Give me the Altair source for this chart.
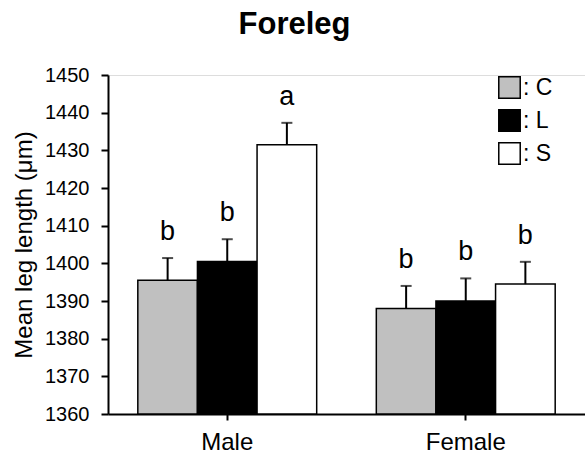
import altair as alt
import pandas as pd

sexes = ["Male", "Male", "Male", "Female", "Female", "Female"]
treatments = ["C", "L", "S", "C", "L", "S"]
means = [1395.5, 1400.5, 1431.5, 1388.0, 1390.0, 1394.5]
errors = [5.9, 5.9, 5.8, 6.0, 6.0, 5.9]
letters = ["b", "b", "a", "b", "b", "b"]
y_ticks = [1360, 1370, 1380, 1390, 1400, 1410, 1420, 1430, 1440, 1450]
treat_order = ["C", "L", "S"]
treat_colors = ["#c0c0c0", "#000000", "#ffffff"]
sex_order = ["Male", "Female"]

df = pd.DataFrame({
    "sex": sexes,
    "treat": treatments,
    "mean": means,
    "err": errors,
    "letter": letters,
})
df["upper"] = df["mean"] + df["err"]
df["base"] = y_ticks[0]

FONT = "Liberation Sans"

X_AXIS = alt.Axis(title=None, labelAngle=0, labelFontSize=24,
                  labelPadding=10, tickSize=6, tickWidth=2,
                  tickColor="black", labelColor="black",
                  domainColor="black", domainWidth=2)
Y_AXIS = alt.Axis(title="Mean leg length (μm)", values=y_ticks, format="d",
                  labelOverlap=False,
                  titleFontSize=24, titleFontWeight="normal",
                  titleColor="black", titlePadding=8,
                  labelFontSize=20, labelColor="black", labelPadding=12,
                  tickSize=7, tickWidth=2, tickColor="black",
                  domainColor="black", domainWidth=2, grid=False)
x_scale = alt.Scale(paddingInner=0.25, paddingOuter=0.125)
y_scale = alt.Scale(domain=[1360, 1450], zero=False, nice=False)


def xe():
    return alt.X("sex:N", sort=sex_order, scale=x_scale, axis=X_AXIS)


def xoe():
    return alt.XOffset("treat:N", sort=treat_order, scale=alt.Scale(paddingInner=0, paddingOuter=0))


def ye(field):
    return alt.Y(field, scale=y_scale, axis=Y_AXIS)


bars = alt.Chart(df).mark_bar(stroke="black", strokeWidth=1.5).encode(
    x=xe(),
    xOffset=xoe(),
    y=ye("mean:Q"),
    y2="base:Q",
    fill=alt.Fill("treat:N", sort=treat_order,
                  scale=alt.Scale(domain=treat_order, range=treat_colors),
                  legend=alt.Legend(title=None, orient="none", legendX=390, legendY=1,
                                    symbolType="square", symbolSize=460,
                                    symbolStrokeColor="black", symbolStrokeWidth=1.5,
                                    symbolOpacity=1,
                                    labelFontSize=23, labelColor="black",
                                    labelExpr="': ' + datum.label",
                                    labelOffset=2, rowPadding=4, padding=0)),
)

rules = alt.Chart(df).mark_rule(color="black", strokeWidth=2).encode(
    x=xe(),
    xOffset=xoe(),
    y=ye("mean:Q"),
    y2="upper:Q",
)

caps = alt.Chart(df).mark_tick(color="black", thickness=2, size=11, orient="horizontal").encode(
    x=xe(),
    xOffset=xoe(),
    y=ye("upper:Q"),
)

texts = alt.Chart(df).mark_text(fontSize=27, baseline="bottom", dy=-12, color="black", font=FONT).encode(
    x=xe(),
    xOffset=xoe(),
    y=ye("upper:Q"),
    text="letter:N",
)

chart = alt.layer(bars, rules, caps, texts).properties(
    width=477, height=339,
    title=alt.TitleParams("Foreleg", fontSize=31, fontWeight="bold", color="black",
                          anchor="middle", dx=-52, offset=24, font=FONT),
    autosize=alt.AutoSizeParams(type="none"),
    padding={"left": 108, "top": 75, "right": 0, "bottom": 51},
).configure_view(stroke=None).configure(font=FONT)

chart.save("out.html", embed_options={"renderer": "svg", "actions": False})
